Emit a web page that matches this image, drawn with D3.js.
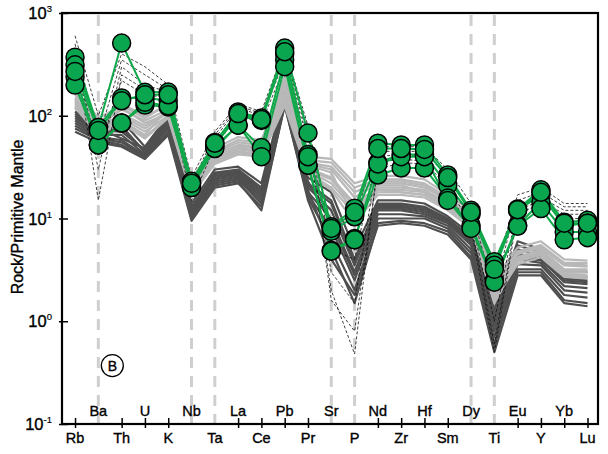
<!DOCTYPE html>
<html>
<head>
<meta charset="utf-8">
<script src="https://cdn.jsdelivr.net/npm/d3@7"></script>
<style>
    body { margin: 0; background: #fff; }
    text { font-family: "Liberation Sans", Arial, sans-serif; fill: #000; stroke: #000; stroke-width: 0.35px; }
</style>
</head>
<body>
<div id="graph"></div>
<script>
// element order on the x axis
var elements = ["Rb","Ba","Th","U","K","Nb","Ta","La","Ce","Pb","Pr","Sr","P","Nd","Zr","Hf","Sm","Dy","Ti","Eu","Y","Yb","Lu"]
var dashedAt = ["Ba","Nb","Ta","Sr","P","Dy","Ti"]
var yTicks = [0.1, 1, 10, 100, 1000]
var yExps = ["-1", "0", "1", "2", "3"]

// samples of this study (green)
var greenSamples = [
    [372, 77, 510, 169, 170, 23, 55, 109, 95, 456, 68, 8.3, 12.6, 54, 52, 52, 26.5, 12, 3.8, 12.4, 19, 9.2, 9.6],
    [313, 77, 149, 150, 140, 22, 52, 100, 90, 400, 42, 7.5, 10.4, 35, 42, 42, 21, 11, 3.5, 12, 17, 8.5, 9],
    [239, 52, 85, 127, 122, 21, 50, 81, 49, 350, 33, 4.9, 6.4, 26.5, 31, 31, 15.8, 8.6, 2.5, 8.6, 14.4, 7.4, 7.4],
    [199, 52, 85, 135, 125, 20, 48, 81, 40, 300, 33, 4.8, 6.2, 34, 40, 40, 15, 8, 2.4, 8.4, 12.5, 6.2, 6.5],
    [270, 72, 140, 160, 160, 22, 54, 105, 92, 420, 40, 8, 11.5, 48, 48, 47, 25, 11.5, 3.2, 12.2, 18, 9, 9]
]

// comparison field, light grey
var lightGray = [
    [170, 85, 130, 100, 125, 24, 45, 58, 55, 240, 37, 35, 20, 24, 24, 22, 16, 11, 2.4, 4.8, 5.5, 3.7, 3.7],
    [150, 80, 115, 90, 115, 22, 42, 52, 50, 200, 34, 30, 16, 22, 22, 20, 15, 10, 2.2, 4.5, 5.2, 3.5, 3.4],
    [140, 75, 105, 80, 110, 20, 38, 48, 46, 170, 31, 25, 14, 20, 20, 19, 14, 9.5, 2.0, 4.2, 5.0, 3.2, 3.2],
    [130, 70, 95, 70, 100, 19, 36, 45, 42, 150, 29, 22, 12, 19, 18, 17, 13, 9, 1.9, 4.0, 4.7, 3.0, 3.0],
    [160, 90, 90, 65, 120, 21, 40, 50, 48, 130, 33, 28, 10, 21, 21, 18, 14, 8.5, 1.7, 3.8, 4.5, 2.9, 2.8],
    [120, 65, 85, 60, 95, 17, 34, 42, 40, 125, 27, 19, 9, 17, 17, 16, 12, 8, 1.6, 3.6, 4.2, 2.7, 2.6],
    [145, 78, 120, 85, 105, 23, 44, 55, 52, 190, 35, 32, 18, 23, 23, 21, 15.5, 10.5, 2.3, 4.6, 5.3, 3.6, 3.5],
    [135, 72, 100, 75, 108, 20, 37, 47, 44, 160, 30, 24, 13, 19, 19, 18, 13.5, 9.2, 1.8, 4.1, 4.8, 3.1, 3.1],
    [180, 95, 125, 95, 130, 25, 48, 62, 58, 220, 40, 38, 22, 26, 26, 24, 17, 12, 2.6, 5.2, 6, 4, 3.9],
    [125, 68, 88, 62, 98, 18, 35, 44, 41, 140, 28, 20, 11, 18, 18, 17, 12.5, 8.7, 1.5, 3.9, 4.4, 2.8, 2.7]
]

// comparison field, dark grey
var darkGray = [
    [120, 80, 90, 50, 100, 14, 30, 32, 22, 170, 25, 18, 5, 15, 15, 14, 10.5, 7, 1.3, 6, 5, 3, 3],
    [100, 70, 75, 45, 90, 13, 28, 30, 20, 160, 22, 15, 4, 14, 14, 13, 10, 6.5, 1.2, 5.5, 4.6, 2.8, 2.7],
    [90, 65, 65, 42, 80, 12, 26, 28, 18, 150, 20, 12, 3.5, 13, 13, 12, 9.5, 6, 1.1, 5, 4.3, 2.6, 2.5],
    [80, 60, 55, 40, 70, 11, 24, 26, 16, 140, 18, 10, 3, 12, 12, 11, 9, 5.5, 1.0, 4.5, 4, 2.4, 2.3],
    [110, 75, 60, 48, 95, 10, 22, 24, 14, 130, 17, 8, 2.5, 11, 11, 10.5, 8.5, 5, 0.9, 4, 3.7, 2.2, 2.1],
    [70, 55, 50, 38, 65, 9.5, 20, 22, 13, 125, 16, 6, 2, 10, 10, 10, 8, 4.6, 0.8, 3.6, 3.5, 2, 1.9],
    [95, 68, 80, 44, 85, 12.5, 27, 29, 19, 155, 21, 14, 3.8, 13.5, 13.5, 12.5, 9.8, 6.2, 0.7, 3.2, 3.2, 1.8, 1.7],
    [85, 62, 58, 41, 75, 10.5, 23, 25, 15, 135, 19, 5, 1.5, 9, 9.5, 9, 7.5, 4.2, 0.6, 3, 3, 1.6, 1.5],
    [105, 72, 70, 46, 88, 11.5, 25, 27, 17, 145, 23, 9, 2.8, 12.5, 12.5, 11.5, 9.2, 5.8, 0.55, 4.2, 3.9, 2.5, 2.4],
    [75, 58, 52, 39, 68, 10, 21, 23, 12, 128, 15, 4, 1.8, 8.5, 9, 8.5, 7, 4, 0.5, 2.8, 2.8, 1.5, 1.4]
]

// comparison field, thin black dashed
var blackDashed = [
    [600, 100, 400, 300, 200, 25, 70, 130, 110, 450, 80, 8, 10, 50, 50, 50, 30, 14, 3, 17, 20, 14, 14],
    [500, 60, 350, 250, 180, 20, 60, 120, 100, 400, 70, 5, 4, 45, 45, 45, 25, 12, 2, 15, 18, 13, 13],
    [400, 30, 300, 200, 170, 18, 55, 110, 95, 350, 65, 3, 1.5, 40, 42, 40, 22, 10, 1, 13, 16, 12, 12],
    [450, 15, 250, 180, 160, 15, 50, 100, 85, 300, 60, 2, 0.48, 35, 38, 36, 20, 9, 0.6, 12, 15, 11, 11],
    [350, 45, 220, 160, 150, 22, 65, 125, 105, 380, 75, 1.6, 0.8, 30, 35, 34, 18, 8, 0.5, 11, 14, 10, 10]
]

var margin = { top: 13, right: 10, bottom: 30, left: 62 }
var width = 608 - margin.left - margin.right,
    height = 454 - margin.top - margin.bottom

var svg = d3.select("#graph").append("svg")
    .attr("width", 608)
    .attr("height", 454)
    .append("g")
    .attr("transform", "translate(" + margin.left + "," + margin.top + ")")

var x = d3.scaleLinear()
    .domain([-0.56, elements.length - 0.55])
    .range([0, width])

var y = d3.scaleLog()
    .domain([0.1, 1000])
    .range([height, 0])

// dashed guide lines
svg.selectAll(".guide")
    .data(dashedAt)
    .enter()
    .append("line")
    .attr("x1", function (d) { return x(elements.indexOf(d)) })
    .attr("x2", function (d) { return x(elements.indexOf(d)) })
    .attr("y1", 2)
    .attr("y2", height + 3)
    .attr("stroke", "#cfcfcf")
    .attr("stroke-width", 3)
    .attr("stroke-dasharray", "11,8")

var line = d3.line()
    .x(function (d, i) { return x(i) })
    .y(function (d) { return y(d) })

function drawSeries(data, color, w, dash) {
    svg.append("g").selectAll("path")
        .data(data)
        .enter()
        .append("path")
        .attr("d", line)
        .attr("fill", "none")
        .attr("stroke", color)
        .attr("stroke-width", w)
        .attr("stroke-linejoin", "round")
        .attr("stroke-dasharray", dash)
}

drawSeries(darkGray, "#4f4f4f", 2.2, null)
drawSeries(lightGray, "#b8b8b8", 2.2, null)
drawSeries(blackDashed, "#111", 0.8, "3,2")
drawSeries(greenSamples, "#10a84a", 2, null)

// green markers
greenSamples.forEach(function (s) {
    svg.append("g").selectAll("circle")
        .data(s)
        .enter()
        .append("circle")
        .attr("cx", function (d, i) { return x(i) })
        .attr("cy", function (d) { return y(d) })
        .attr("r", 9)
        .attr("fill", "#0aa64f")
        .attr("stroke", "#000")
        .attr("stroke-width", 1.5)
})

// y axis ticks
var yAxis = d3.axisLeft(y).tickValues(yTicks).tickFormat("").tickSizeOuter(0)
var gy = svg.append("g").call(yAxis)
gy.select(".domain").remove()
gy.selectAll(".tick line").attr("x1", -3).attr("x2", 6).attr("stroke-width", 1.5)

yTicks.forEach(function (t, i) {
    var lbl = svg.append("text")
        .attr("x", -10)
        .attr("y", y(t) + 6)
        .attr("text-anchor", "end")
        .style("font-size", "16.5px")
    lbl.append("tspan").text("10")
    lbl.append("tspan")
        .attr("dy", -7)
        .style("font-size", "9.5px")
        .style("stroke-width", "0.2px")
        .text(yExps[i])
})

// x axis ticks
var xAxis = d3.axisBottom(x)
    .tickValues(d3.range(elements.length).filter(function (i) { return dashedAt.indexOf(elements[i]) < 0 }))
    .tickFormat("")
    .tickSizeOuter(0)
var gx = svg.append("g").attr("transform", "translate(0," + height + ")").call(xAxis)
gx.select(".domain").remove()
gx.selectAll(".tick line").attr("y1", -6).attr("y2", 4).attr("stroke-width", 1.5)

svg.selectAll(".elabel")
    .data(elements)
    .enter()
    .append("text")
    .attr("x", function (d, i) { return x(i) })
    .attr("y", function (d, i) { return i % 2 == 0 ? height + 19 : height - 8 })
    .attr("text-anchor", "middle")
    .style("font-size", "14.5px")
    .text(function (d) { return d })

// frame
svg.append("rect")
    .attr("x", 0)
    .attr("y", 0)
    .attr("width", width)
    .attr("height", height)
    .attr("fill", "none")
    .attr("stroke", "#000")
    .attr("stroke-width", 2.2)

// axis title
svg.append("text")
    .attr("transform", "translate(" + (-39) + "," + 204 + ") rotate(-90)")
    .attr("text-anchor", "middle")
    .style("font-size", "16px")
    .text("Rock/Primitive Mantle")

// panel label
svg.append("circle")
    .attr("cx", x(1.6))
    .attr("cy", y(0.37))
    .attr("r", 11)
    .attr("fill", "none")
    .attr("stroke", "#000")
    .attr("stroke-width", 1.3)
svg.append("text")
    .attr("x", x(1.6))
    .attr("y", y(0.37) + 5)
    .attr("text-anchor", "middle")
    .style("font-size", "14px")
    .text("B")
</script>
</body>
</html>
